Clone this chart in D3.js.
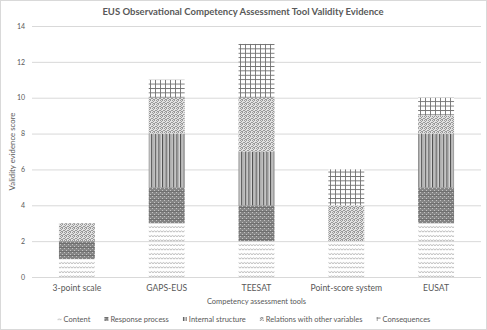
<!DOCTYPE html>
<html lang="en">
  <head>
    <title>EUS Validity Evidence</title>
    <script src="https://d3js.org/d3.v7.min.js"></script>
    <style>
      body {
        margin: 0;
        background: #fff;
        font-family: Lato, "Open Sans", sans-serif;
      }
      text {
        fill: #595959;
      }
    </style>
  </head>
  <body>
    <script>
      const categories = ['3-point scale', 'GAPS-EUS', 'TEESAT', 'Point-score system', 'EUSAT'];
      const seriesNames = ['Content', 'Response process', 'Internal structure', 'Relations with other variables', 'Consequences'];
      const content = [1, 3, 2, 2, 3];
      const responseProcess = [1, 2, 2, 0, 2];
      const internalStructure = [0, 3, 3, 0, 3];
      const relations = [1, 2, 3, 2, 1];
      const consequences = [0, 1, 3, 2, 1];
      const yTicks = [0, 2, 4, 6, 8, 10, 12, 14];

      const w = 487;
      const h = 330;
      const plotLeft = 32, plotRight = 481, plotTop = 26, plotBottom = 277;

      const seriesValues = [content, responseProcess, internalStructure, relations, consequences];
      const rows = categories.map((c, i) => {
        const r = { category: c };
        seriesNames.forEach((s, j) => r[s] = seriesValues[j][i]);
        return r;
      });
      const stacked = d3.stack().keys(seriesNames)(rows);

      const xScale = d3.scaleBand()
                       .domain(categories)
                       .range([plotLeft, plotRight])
                       .paddingInner(0.6)
                       .paddingOuter(0.3);

      const yScale = d3.scaleLinear()
                       .domain([0, 14])
                       .range([plotBottom, plotTop]);

      const svg = d3.select('body')
                    .append('svg')
                    .attr('width', w)
                    .attr('height', h);

      svg.append('rect')
         .attr('x', 0.5).attr('y', 0.5)
         .attr('width', w - 1).attr('height', h - 1)
         .attr('fill', '#fff')
         .attr('stroke', '#d9d9d9');

      // pattern fills, Excel style
      const defs = svg.append('defs');

      const pContent = defs.append('pattern')
        .attr('id', 'p0').attr('patternUnits', 'userSpaceOnUse')
        .attr('width', 6).attr('height', 4.5);
      pContent.append('path')
        .attr('d', 'M0,2.5 L1.5,1.5 L3,2.5 L4.5,1.5 L6,2.5')
        .attr('fill', 'none').attr('stroke', '#a6a6a6').attr('stroke-width', 0.9);

      const pResp = defs.append('pattern')
        .attr('id', 'p1').attr('patternUnits', 'userSpaceOnUse')
        .attr('width', 4).attr('height', 4);
      pResp.append('rect').attr('width', 4).attr('height', 4).attr('fill', '#858585');
      pResp.append('rect').attr('x', 0).attr('y', 0).attr('width', 1).attr('height', 1).attr('fill', '#c4c4c4');
      pResp.append('rect').attr('x', 2).attr('y', 2).attr('width', 1).attr('height', 1).attr('fill', '#c4c4c4');
      pResp.append('rect').attr('x', 0).attr('y', 3).attr('width', 4).attr('height', 0.8).attr('fill', '#6a6a6a');

      const pInt = defs.append('pattern')
        .attr('id', 'p2').attr('patternUnits', 'userSpaceOnUse')
        .attr('width', 3.6).attr('height', 4);
      pInt.append('rect').attr('width', 3.6).attr('height', 4).attr('fill', '#e8e8e8');
      pInt.append('rect').attr('x', 0).attr('width', 1.2).attr('height', 4).attr('fill', '#4d4d4d');
      pInt.append('rect').attr('x', 2.1).attr('width', 0.8).attr('height', 4).attr('fill', '#9a9a9a');

      const pRel = defs.append('pattern')
        .attr('id', 'p3').attr('patternUnits', 'userSpaceOnUse')
        .attr('width', 4).attr('height', 4);
      pRel.append('rect').attr('width', 4).attr('height', 4).attr('fill', '#e2e2e2');
      [[0, 0], [2, 0], [1, 1], [3, 2], [0, 2], [2, 3], [1, 3]].forEach(d => {
        pRel.append('rect').attr('x', d[0]).attr('y', d[1])
            .attr('width', 1).attr('height', 1).attr('fill', '#999');
      });

      const pCons = defs.append('pattern')
        .attr('id', 'p4').attr('patternUnits', 'userSpaceOnUse')
        .attr('width', 5).attr('height', 4.4);
      pCons.append('rect').attr('width', 5).attr('height', 4.4).attr('fill', '#fff');
      pCons.append('rect').attr('x', 0).attr('width', 0.9).attr('height', 4.4).attr('fill', '#707070');
      pCons.append('rect').attr('y', 0).attr('width', 5).attr('height', 0.9).attr('fill', '#707070');

      // gridlines
      svg.append('g')
         .selectAll('line')
         .data(yTicks)
         .enter()
         .append('line')
          .attr('x1', plotLeft).attr('x2', plotRight)
          .attr('y1', d => yScale(d) + 0.5).attr('y2', d => yScale(d) + 0.5)
          .attr('stroke', '#d9d9d9').attr('stroke-width', 1);

      // bars
      svg.append('g')
         .selectAll('g')
         .data(stacked)
         .enter()
         .append('g')
          .attr('fill', (d, i) => `url(#p${i})`)
         .selectAll('rect')
         .data(d => d.filter(v => v[1] > v[0]))
         .enter()
         .append('rect')
          .attr('x', d => xScale(d.data.category))
          .attr('y', d => yScale(d[1]))
          .attr('width', xScale.bandwidth())
          .attr('height', d => yScale(d[0]) - yScale(d[1]));

      const yAxis = d3.axisLeft(yScale).tickValues(yTicks).tickSize(0).tickPadding(7);
      const gy = svg.append('g')
         .attr('transform', `translate(${plotLeft}, 0)`)
         .call(yAxis);
      gy.select('.domain').remove();
      gy.selectAll('text').style('font-size', '7px').style('font-family', 'Lato');

      const xAxis = d3.axisBottom(xScale).tickSize(0).tickPadding(8);
      const gx = svg.append('g')
         .attr('transform', `translate(0, ${plotBottom})`)
         .call(xAxis);
      gx.select('.domain').remove();
      gx.selectAll('text').style('font-size', '8.6px').style('font-family', 'Lato');

      svg.append('text')
         .attr('x', 243).attr('y', 15)
         .attr('text-anchor', 'middle')
         .style('font-size', '9.5px').style('font-weight', 'bold')
         .text('EUS Observational Competency Assessment Tool Validity Evidence');

      svg.append('text')
         .attr('transform', `translate(15, ${(plotTop + plotBottom) / 2}) rotate(-90)`)
         .attr('text-anchor', 'middle')
         .style('font-size', '7.8px')
         .text('Validity evidence score');

      svg.append('text')
         .attr('x', (plotLeft + plotRight) / 2).attr('y', 304)
         .attr('text-anchor', 'middle')
         .style('font-size', '7.5px')
         .text('Competency assessment tools');

      // legend
      const legend = svg.append('g');
      let lx = 0;
      seriesNames.forEach((s, i) => {
        const item = legend.append('g').attr('transform', `translate(${lx}, 0)`);
        item.append('rect')
            .attr('x', 0).attr('y', -5)
            .attr('width', 4).attr('height', 4)
            .attr('fill', `url(#p${i})`);
        const t = item.append('text')
            .attr('x', 6).attr('y', 0)
            .style('font-size', '7.5px')
            .text(s);
        lx += 6 + t.node().getComputedTextLength() + 14;
      });
      const legendWidth = lx - 14;
      legend.attr('transform', `translate(${244 - legendWidth / 2}, 322)`);
    </script>
  </body>
</html>
